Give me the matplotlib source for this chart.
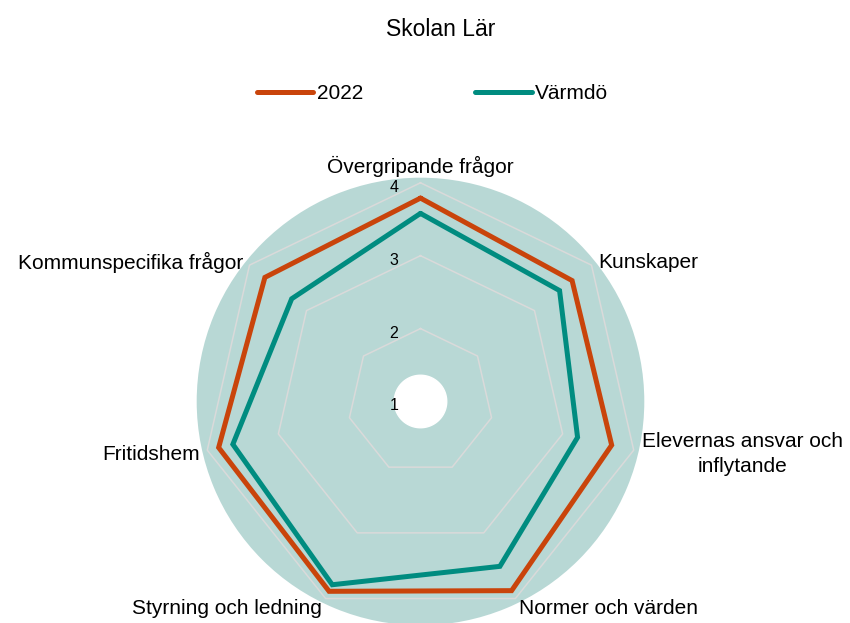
# Radar chart "Skolan Lär" - 2022 vs Värmdö

import numpy as np
import matplotlib.pyplot as plt
from matplotlib.transforms import offset_copy

plt.rcParams['font.family'] = ['Liberation Sans', 'DejaVu Sans']

categories = ['Övergripande frågor', 'Kunskaper', 'Elevernas ansvar och\ninflytande',
              'Normer och värden', 'Styrning och ledning', 'Fritidshem',
              'Kommunspecifika frågor']
values_2022 = [3.79, 3.66, 3.69, 3.88, 3.89, 3.84, 3.73]
values_varmdo = [3.58, 3.44, 3.21, 3.51, 3.79, 3.64, 3.26]
ticks = [1, 2, 3, 4]

orange = '#C9440B'
teal = '#008C80'

fig = plt.figure(figsize=(8.5, 6.23), dpi=100)
ax = fig.add_axes([0.2314, -0.0037, 0.5266, 0.7185], projection='polar')
ax.set_theta_offset(np.pi / 2)
ax.set_theta_direction(-1)
ax.set_ylim(1, 4.07)
ax.set_facecolor('#B8D8D5')
ax.spines['polar'].set_visible(False)
ax.grid(False)
ax.set_xticks([])
ax.set_yticks([])

n = len(categories)
angles = np.linspace(0, 2 * np.pi, n, endpoint=False)
closed = np.append(angles, angles[0])

# polygon gridlines
for t in ticks[1:]:
    ax.plot(closed, [t] * (n + 1), color='#DADADA', lw=1.1, zorder=1)

# white hole in the middle
circ = np.linspace(0, 2 * np.pi, 200)
ax.fill(circ, [1.36] * 200, color='white', zorder=2)

ax.plot(closed, values_2022 + values_2022[:1], color=orange, lw=3.6, label='2022',
        solid_joinstyle='miter', solid_capstyle='round', zorder=3)
ax.plot(closed, values_varmdo + values_varmdo[:1], color=teal, lw=3.6, label='Värmdö',
        solid_joinstyle='miter', solid_capstyle='round', zorder=3)

# radial tick labels
tr = offset_copy(ax.transData, fig=fig, x=-26.5, y=-4.5, units='dots')
for t in ticks:
    ax.text(0, t, str(t), transform=tr, ha='center', va='center', fontsize=11.5, zorder=4)

# category labels
tl = offset_copy(ax.transData, fig=fig, x=0, y=-2.5, units='dots')
for ang, lab in zip(angles, categories):
    s = np.sin(ang)
    if s > 0.1:
        ha = 'left'
    elif s < -0.1:
        ha = 'right'
    else:
        ha = 'center'
    va = 'bottom' if np.cos(ang) > 0.99 else 'center'
    ax.text(ang, 4.11, lab, transform=tl, ha=ha, va=va, fontsize=15,
            multialignment='center', linespacing=1.4)

fig.text(441 / 850, 1 - 29 / 623, 'Skolan Lär', ha='center', va='center', fontsize=16.5)

fig.legend(loc='center', bbox_to_anchor=(432.5 / 850, 1 - 93.5 / 623), ncol=2, frameon=False,
           fontsize=15, handlelength=2.7, handletextpad=0.15, columnspacing=5.4)

fig.savefig('out.png', dpi=100)
